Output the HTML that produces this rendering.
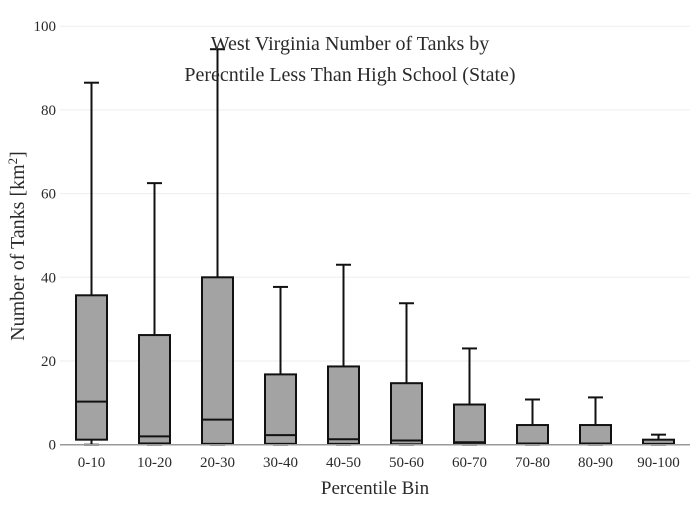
<!DOCTYPE html>
<html><head><meta charset="utf-8"><style>
body{margin:0;background:#fff;}
svg text{font-family:"Liberation Serif",serif;fill:#2a2a2a;}
</style></head><body>
<svg id="c" width="700" height="500" xmlns="http://www.w3.org/2000/svg">
<rect width="700" height="500" fill="#fff"/>
<g id="grid"></g>
<g id="boxes"></g>
<g id="axes"></g>
<text x="350" y="50" text-anchor="middle" font-size="20">West Virginia Number of Tanks by</text>
<text x="350" y="81" text-anchor="middle" font-size="20">Perecntile Less Than High School (State)</text>
<text x="375" y="494" text-anchor="middle" font-size="19">Percentile Bin</text>
<text transform="translate(24,246) rotate(-90)" text-anchor="middle" font-size="20">Number of Tanks  [km<tspan baseline-shift="super" font-size="13">2</tspan>]</text>
</svg>
<script>
const categories=["0-10","10-20","20-30","30-40","40-50","50-60","60-70","70-80","80-90","90-100"];
const lowerWhisker=[0,0,0,0,0,0,0,0,0,0];
const q1=[1.2,0.3,0.2,0.2,0.2,0.1,0.1,0.1,0.1,0.1];
const median=[10.3,2,6,2.3,1.3,1,0.6,0.3,0.3,0.2];
const q3=[35.7,26.2,40,16.8,18.7,14.7,9.6,4.7,4.7,1.2];
const upperWhisker=[86.5,62.5,94.5,37.7,43,33.8,23,10.8,11.3,2.4];
const yTicks=[0,20,40,60,80,100];
const NS="http://www.w3.org/2000/svg";
const x0=60,x1=690,yZero=444.7,yScale=4.185;
const y=v=>yZero-v*yScale;
const band=(x1-x0)/categories.length;
const xc=i=>x0+band*(i+0.5);
function mk(tag,attrs,parent){const e=document.createElementNS(NS,tag);for(const k in attrs)e.setAttribute(k,attrs[k]);parent.appendChild(e);return e;}
const grid=document.getElementById('grid'),boxes=document.getElementById('boxes'),axes=document.getElementById('axes');
yTicks.forEach(t=>{
  if(t>0){const g=mk('line',{x1:x0,x2:x1,y1:y(t),y2:y(t),stroke:'#eee','stroke-width':1},grid);
  
  }
  const tx=mk('text',{x:56,y:y(t)+5,'text-anchor':'end','font-size':15},axes);
  tx.textContent=t;
  
  
});
const ax=mk('line',{x1:x0,x2:x1,y1:yZero,y2:yZero,stroke:'#999','stroke-width':1.5},axes);


const bw=31,cw=15;
categories.forEach((c,i)=>{
  const g=mk('g',{},boxes);
  
  
  const cx=xc(i);
  mk('line',{x1:cx,x2:cx,y1:y(q3[i]),y2:y(upperWhisker[i]),stroke:'#111','stroke-width':2},g);
  mk('line',{x1:cx-cw/2,x2:cx+cw/2,y1:y(upperWhisker[i]),y2:y(upperWhisker[i]),stroke:'#111','stroke-width':2},g);
  mk('line',{x1:cx,x2:cx,y1:y(q1[i]),y2:y(lowerWhisker[i]),stroke:'#111','stroke-width':2},g);
  mk('line',{x1:cx-cw/2,x2:cx+cw/2,y1:y(lowerWhisker[i]),y2:y(lowerWhisker[i]),stroke:'#111','stroke-width':2},g);
  mk('rect',{x:cx-bw/2,y:y(q3[i]),width:bw,height:y(q1[i])-y(q3[i]),fill:'#a3a3a3',stroke:'#111','stroke-width':2},g);
  mk('line',{x1:cx-bw/2,x2:cx+bw/2,y1:y(median[i]),y2:y(median[i]),stroke:'#111','stroke-width':2},g);
  const tx=mk('text',{x:cx,y:467,'text-anchor':'middle','font-size':15},axes);
  tx.textContent=c;
  
  
});
</script>
</body></html>
